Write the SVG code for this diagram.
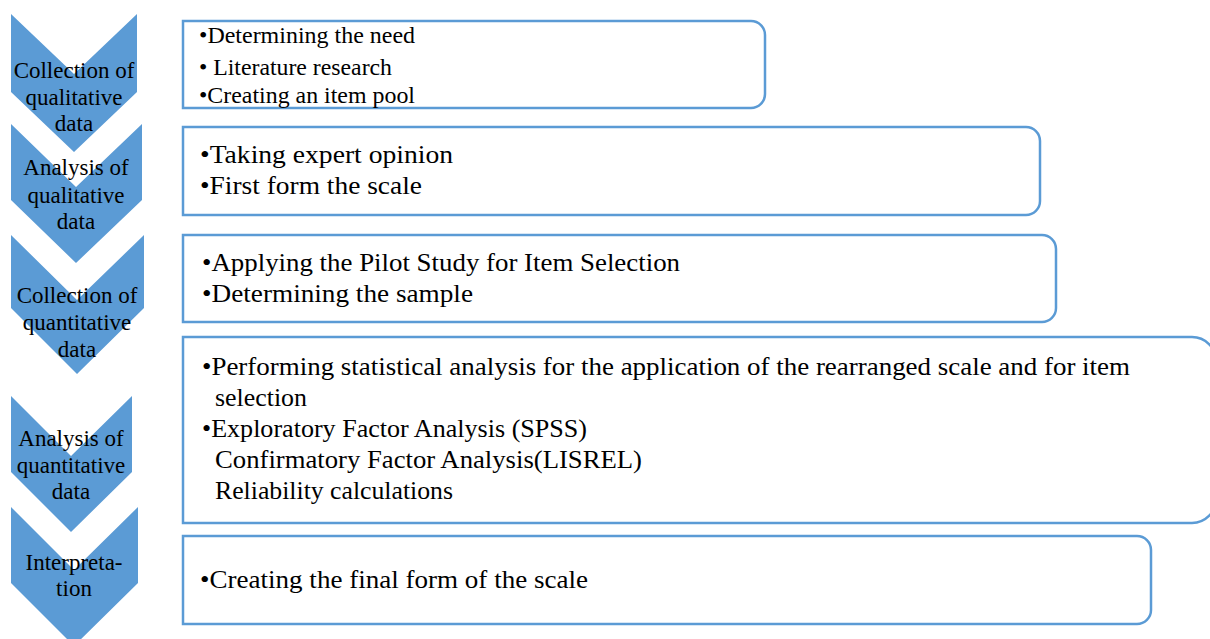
<svg xmlns="http://www.w3.org/2000/svg" width="1210" height="639" viewBox="0 0 1210 639">
<style>
.chev{fill:#5B9BD5;}
.box{fill:#FFFFFF;stroke:#5B9BD5;stroke-width:2.5;}
.ct{font-family:"Liberation Serif","Times New Roman",serif;font-size:23px;fill:#000;text-anchor:middle;}
.bt{font-family:"Liberation Serif","Times New Roman",serif;font-size:26px;fill:#000;}
.bs{font-size:24px;}
</style>
<rect width="1210" height="639" fill="#FFFFFF"/>
<g id="step1">
<path class="chev" d="M11,14 L74,74 L137,14 L137,92 L74,152 L11,92 Z"/>
<text class="ct" x="74" y="78">Collection of</text>
<text class="ct" x="74" y="105">qualitative</text>
<text class="ct" x="74" y="131">data</text>
</g>
<g id="step2">
<path class="chev" d="M11,124 L76,187 L142,124 L142,200 L76,263 L11,200 Z"/>
<text class="ct" x="76" y="175">Analysis of</text>
<text class="ct" x="76" y="203">qualitative</text>
<text class="ct" x="76" y="229">data</text>
</g>
<g id="step3">
<path class="chev" d="M11,235 L77,300 L144,235 L144,308 L77,374 L11,308 Z"/>
<text class="ct" x="77" y="303">Collection of</text>
<text class="ct" x="77" y="330">quantitative</text>
<text class="ct" x="77" y="357">data</text>
</g>
<g id="step4">
<path class="chev" d="M11,396 L71,456 L132,396 L132,472 L71,532 L11,472 Z"/>
<text class="ct" x="71" y="446">Analysis of</text>
<text class="ct" x="71" y="473">quantitative</text>
<text class="ct" x="71" y="499">data</text>
</g>
<g id="step5">
<path class="chev" d="M11,507 L74,570 L138,507 L138,583 L74,646 L11,583 Z"/>
<text class="ct" x="74" y="570">Interpreta-</text>
<text class="ct" x="74" y="596">tion</text>
</g>
<g id="box1">
<path class="box" d="M183,21 H751 A14,14 0 0 1 765,35 V94 A14,14 0 0 1 751,108 H183 Z"/>
<text class="bt bs" x="199" y="43" textLength="216" lengthAdjust="spacingAndGlyphs">•Determining the need</text>
<text class="bt bs" x="199" y="75" textLength="193" lengthAdjust="spacingAndGlyphs">• Literature research</text>
<text class="bt bs" x="199" y="103" textLength="216" lengthAdjust="spacingAndGlyphs">•Creating an item pool</text>
</g>
<g id="box2">
<path class="box" d="M183,127 H1026 A14,14 0 0 1 1040,141 V201 A14,14 0 0 1 1026,215 H183 Z"/>
<text class="bt" x="200" y="163" textLength="253" lengthAdjust="spacingAndGlyphs">•Taking expert opinion</text>
<text class="bt" x="200" y="194" textLength="222" lengthAdjust="spacingAndGlyphs">•First form the scale</text>
</g>
<g id="box3">
<path class="box" d="M183,235 H1042 A14,14 0 0 1 1056,249 V308 A14,14 0 0 1 1042,322 H183 Z"/>
<text class="bt" x="202" y="271" textLength="478" lengthAdjust="spacingAndGlyphs">•Applying the Pilot Study for Item Selection</text>
<text class="bt" x="202" y="302" textLength="271" lengthAdjust="spacingAndGlyphs">•Determining the sample</text>
</g>
<g id="box4">
<path class="box" d="M183,337 H1192 A24,24 0 0 1 1216,361 V499 A24,24 0 0 1 1192,523 H183 Z"/>
<text class="bt" x="202" y="375" textLength="928" lengthAdjust="spacingAndGlyphs">•Performing statistical analysis for the application of the rearranged scale and for item</text>
<text class="bt" x="215" y="406" textLength="92" lengthAdjust="spacingAndGlyphs">selection</text>
<text class="bt" x="202" y="437" textLength="385" lengthAdjust="spacingAndGlyphs">•Exploratory Factor Analysis (SPSS)</text>
<text class="bt" x="215" y="468" textLength="427" lengthAdjust="spacingAndGlyphs">Confirmatory Factor Analysis(LISREL)</text>
<text class="bt" x="215" y="499" textLength="238" lengthAdjust="spacingAndGlyphs">Reliability calculations</text>
</g>
<g id="box5">
<path class="box" d="M183,536 H1137 A14,14 0 0 1 1151,550 V610 A14,14 0 0 1 1137,624 H183 Z"/>
<text class="bt" x="200" y="588" textLength="388" lengthAdjust="spacingAndGlyphs">•Creating the final form of the scale</text>
</g>
</svg>
